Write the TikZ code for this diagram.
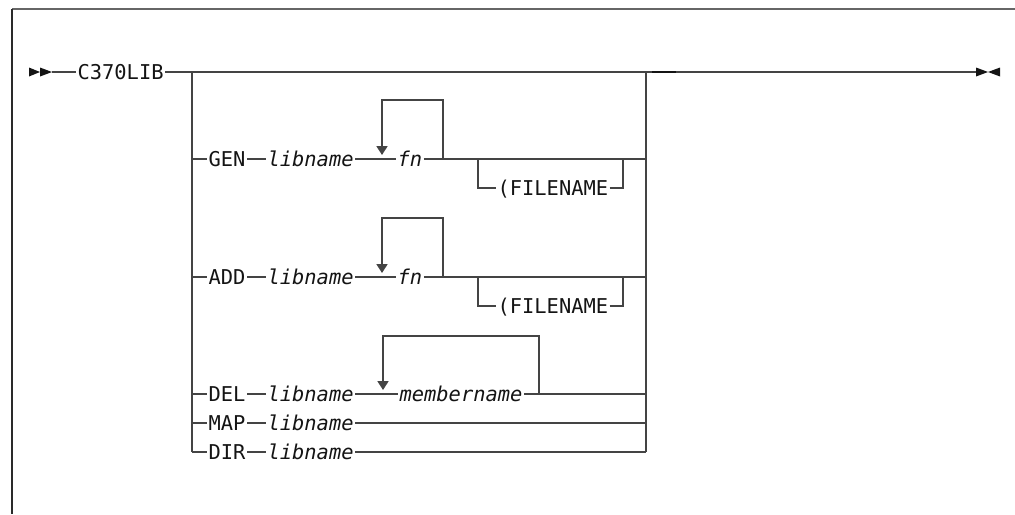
\documentclass[tikz,border=0pt]{standalone}
\usepackage{fontspec}
\setmonofont{DejaVu Sans Mono}
\usetikzlibrary{arrows.meta}
\definecolor{railgray}{HTML}{444444}
\definecolor{inkgray}{HTML}{141414}
\definecolor{framedark}{HTML}{2A2A2A}
\definecolor{frametop}{HTML}{666666}
\begin{document}
\begin{tikzpicture}[x=0.5pt,y=-0.5pt,
  rail/.style={draw=railgray, line width=0.95pt},
  loop/.style={rail, -{Triangle[width=5.4pt,length=4.4pt]}, shorten >=2pt},
  kw/.style={font=\ttfamily\fontsize{10.2}{12}\selectfont, text=inkgray,
    inner xsep=0.8pt, inner ysep=0pt, outer sep=0pt,
    text height=7.45pt, text depth=0pt, anchor=west},
  var/.style={kw, font=\ttfamily\itshape\fontsize{10.2}{12}\selectfont},
  tipfill/.style={fill=inkgray}]
\useasboundingbox (0,0) rectangle (1015,514);

% frame
\draw[line width=1pt, frametop] (12,9) -- (1015,9);
\draw[line width=1.1pt, framedark] (12,9) -- (12,514);

% start and end markers
\coordinate (start) at (52,72);
\coordinate (finish) at (976,72);
\fill[tipfill] (29,67.5) -- (40,72) -- (29,76.5) -- cycle;
\fill[tipfill] (40,67.5) -- (52,72) -- (40,76.5) -- cycle;
\fill[tipfill] (976,67.5) -- (988,72) -- (976,76.5) -- cycle;
\fill[tipfill] (1000,67.5) -- (988,72) -- (1000,76.5) -- cycle;

% command name and main rail
\node[kw] (cmd) at (76,72) {C370LIB};
\coordinate (topL) at (192,72);
\coordinate (topR) at (646,72);
\coordinate (botL) at (192,452);
\coordinate (botR) at (646,452);
\coordinate (m1) at (652,72);
\coordinate (m2) at (676,72);
\draw[rail] (start) -- (cmd.west);
\draw[rail] (cmd.east) -- (topL) -- (topR) -- (finish);
\draw[line width=1.3pt, inkgray] (m1) -- (m2);
\draw[rail] (topL) -- (botL);
\draw[rail] (topR) -- (botR);

% GEN
\node[kw]  (gen)    at (207,159) {GEN};
\node[var] (genlib) at (266,159) {libname};
\node[var] (genfn)  at (396,159) {fn};
\coordinate (g1) at (382,100);
\coordinate (g2) at (443,100);
\coordinate (gf1) at (478,159);
\coordinate (gf2) at (623,159);
\node[kw]  (genfile) at (496,188) {(FILENAME};
\draw[rail] (topL |- gen) -- (gen.west);
\draw[rail] (gen.east) -- (genlib.west);
\draw[rail] (genlib.east) -- (genfn.west);
\draw[rail] (genfn.east) -- (topR |- genfn);
\draw[loop] (g2 |- genfn) -- (g2) -- (g1) -- (g1 |- genfn);
\draw[rail] (gf1) -- (gf1 |- genfile) -- (genfile.west);
\draw[rail] (genfile.east) -- (gf2 |- genfile) -- (gf2);

% ADD
\node[kw]  (add)    at (207,277) {ADD};
\node[var] (addlib) at (266,277) {libname};
\node[var] (addfn)  at (396,277) {fn};
\coordinate (a1) at (382,218);
\coordinate (a2) at (443,218);
\coordinate (af1) at (478,277);
\coordinate (af2) at (623,277);
\node[kw]  (addfile) at (496,306) {(FILENAME};
\draw[rail] (topL |- add) -- (add.west);
\draw[rail] (add.east) -- (addlib.west);
\draw[rail] (addlib.east) -- (addfn.west);
\draw[rail] (addfn.east) -- (topR |- addfn);
\draw[loop] (a2 |- addfn) -- (a2) -- (a1) -- (a1 |- addfn);
\draw[rail] (af1) -- (af1 |- addfile) -- (addfile.west);
\draw[rail] (addfile.east) -- (af2 |- addfile) -- (af2);

% DEL
\node[kw]  (del)    at (207,394) {DEL};
\node[var] (dellib) at (266,394) {libname};
\node[var] (delmem) at (398,394) {membername};
\coordinate (d1) at (383,336);
\coordinate (d2) at (539,336);
\draw[rail] (topL |- del) -- (del.west);
\draw[rail] (del.east) -- (dellib.west);
\draw[rail] (dellib.east) -- (delmem.west);
\draw[rail] (delmem.east) -- (topR |- delmem);
\draw[loop] (d2 |- delmem) -- (d2) -- (d1) -- (d1 |- delmem);

% MAP
\node[kw]  (map)    at (207,423) {MAP};
\node[var] (maplib) at (266,423) {libname};
\draw[rail] (topL |- map) -- (map.west);
\draw[rail] (map.east) -- (maplib.west);
\draw[rail] (maplib.east) -- (topR |- maplib);

% DIR
\node[kw]  (dir)    at (207,452) {DIR};
\node[var] (dirlib) at (266,452) {libname};
\draw[rail] (botL) -- (dir.west);
\draw[rail] (dir.east) -- (dirlib.west);
\draw[rail] (dirlib.east) -- (botR);
\end{tikzpicture}
\end{document}
